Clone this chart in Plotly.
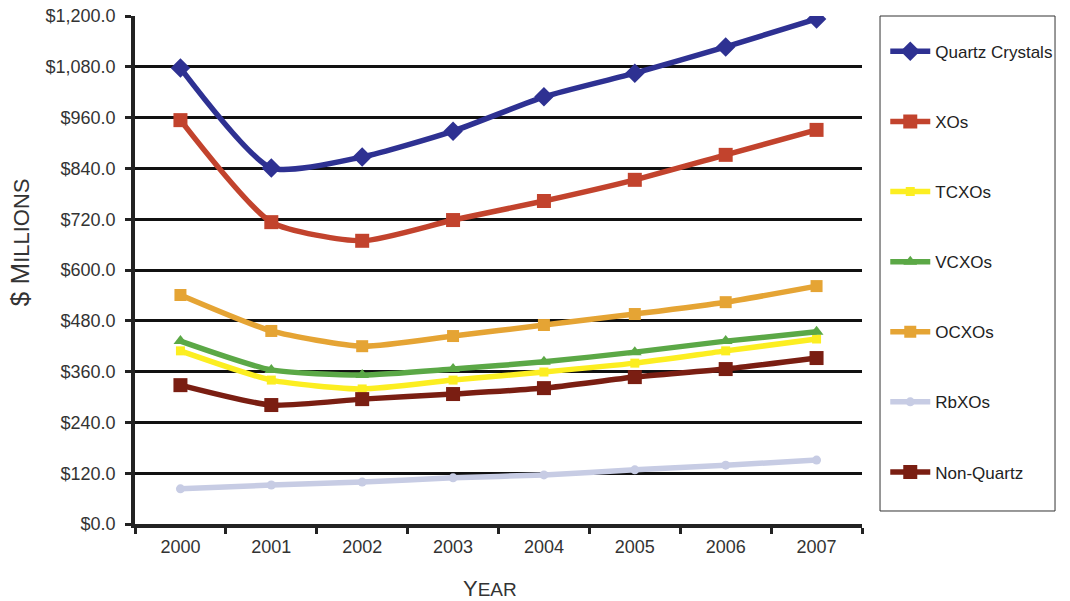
import plotly.graph_objects as go

years = ["2000", "2001", "2002", "2003", "2004", "2005", "2006", "2007"]
quartz = [1077, 841, 867, 928, 1009, 1065, 1127, 1193]
xos = [954, 713, 669, 718, 763, 813, 872, 931]
tcxos = [409, 340, 319, 340, 359, 380, 409, 437]
vcxos = [432, 364, 352, 366, 383, 406, 432, 454]
ocxos = [541, 456, 420, 444, 470, 496, 524, 562]
rbxos = [83, 92, 99, 109, 116, 128, 139, 151]
nonquartz = [328, 281, 295, 307, 321, 347, 366, 392]

series = [
    ("Quartz Crystals", quartz, "#2E3192", "diamond", 15),
    ("XOs", xos, "#C2432D", "square", 14),
    ("TCXOs", tcxos, "#FCEE21", "square", 9),
    ("VCXOs", vcxos, "#5BA846", "triangle-up", 12),
    ("OCXOs", ocxos, "#E5A434", "square", 12),
    ("RbXOs", rbxos, "#C7CCE4", "circle", 9),
    ("Non-Quartz", nonquartz, "#7A1E12", "square", 14),
]

fig = go.Figure()
for i, (name, vals, col, sym, sz) in enumerate(series):
    fig.add_trace(go.Scatter(
        x=years, y=vals, name=name, mode="lines+markers",
        line=dict(color=col, width=5.5, shape="spline", smoothing=0.6),
        marker=dict(color=col, symbol=sym, size=sz),
        legendgroup=f"g{i}",
    ))

fig.update_layout(
    width=1070, height=601,
    margin=dict(l=135, r=208, t=16, b=77, autoexpand=False),
    paper_bgcolor="white", plot_bgcolor="white",
    font=dict(family="Liberation Sans, Arial, sans-serif", size=18, color="#333333"),
    showlegend=True,
    legend=dict(
        x=1.032, y=0.965, xanchor="left", yanchor="top",
        bgcolor="rgba(0,0,0,0)", borderwidth=0,
        tracegroupgap=45, font=dict(size=17, color="#222222"),
        itemwidth=40,
    ),
    xaxis=dict(
        type="category", range=[-0.5, 7.5], tickson="boundaries",
        ticks="outside", ticklen=6, tickwidth=2.5, tickcolor="#222",
        showline=True, linecolor="#222", linewidth=3.5,
        showgrid=False, zeroline=False, ticklabelstandoff=4,
        tickfont=dict(size=18, color="#333"), automargin=False,
    ),
    yaxis=dict(
        range=[0, 1200], dtick=120, tickformat="$,.1f",
        ticks="outside", ticklen=6, tickwidth=2.5, tickcolor="#222",
        showline=True, linecolor="#222", linewidth=3.5,
        showgrid=True, gridcolor="#111", gridwidth=2.5,
        zeroline=False, ticklabelstandoff=6,
        tickfont=dict(size=18, color="#333"), automargin=False,
    ),
    annotations=[
        dict(text="$ M<span style='font-size:22px'>ILLIONS</span>",
             xref="paper", yref="paper", x=-0.158, y=0.555,
             xanchor="center", yanchor="middle", textangle=-90,
             showarrow=False, font=dict(size=26, color="#333")),
        dict(text="Y<span style='font-size:19px'>EAR</span>",
             xref="paper", yref="paper", x=0.488, y=-0.126,
             xanchor="center", yanchor="middle",
             showarrow=False, font=dict(size=22, color="#333")),
    ],
)

fig.add_shape(type="rect", xref="paper", yref="paper",
              x0=1.0248, x1=1.2655, y0=0.0256, y1=1.0,
              line=dict(color="#333", width=1), fillcolor="rgba(0,0,0,0)")

fig.write_html("out.html", config={"displayModeBar": False},
               post_script="document.body.style.margin='0px';")
